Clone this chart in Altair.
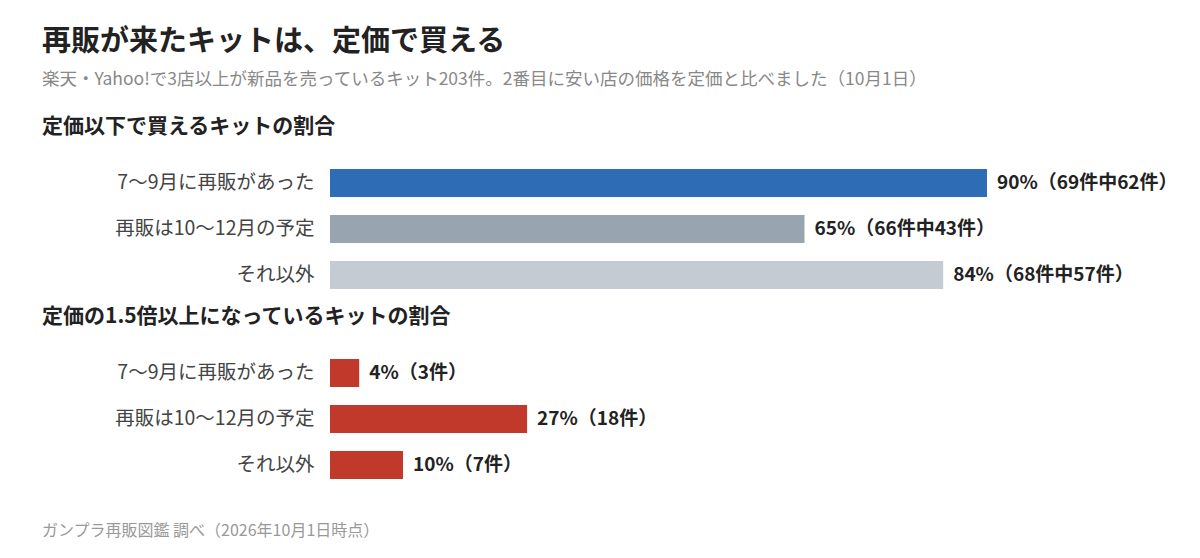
import altair as alt
import pandas as pd

FONT = "Noto Sans CJK JP"

categories = ["7〜9月に再販があった", "再販は10〜12月の予定", "それ以外"]

under_list_pct = [90, 65, 84]
under_list_labels = ["90%（69件中62件）", "65%（66件中43件）", "84%（68件中57件）"]
under_list_colors = ["#2e6cb5", "#98a5b0", "#c5cbd2"]

over_15_pct = [4, 27, 10]
over_15_labels = ["4%（3件）", "27%（18件）", "10%（7件）"]
over_15_colors = ["#c0392b", "#c0392b", "#c0392b"]

title = "再販が来たキットは、定価で買える"
subtitle = "楽天・Yahoo!で3店以上が新品を売っているキット203件。2番目に安い店の価格を定価と比べました（10月1日）"
header_1 = "定価以下で買えるキットの割合"
header_2 = "定価の1.5倍以上になっているキットの割合"
footer = "ガンプラ再販図鑑 調べ（2026年10月1日時点）"


def panel(values, labels, colors, header):
    df = pd.DataFrame({"group": categories, "pct": values, "label": labels})
    base = alt.Chart(df).encode(
        y=alt.Y(
            "group:N",
            sort=categories,
            title=None,
            scale=alt.Scale(paddingInner=0.39, paddingOuter=0.195),
            axis=alt.Axis(
                domain=False, ticks=False, labelPadding=16, labelFontSize=19.5,
                labelFont=FONT, labelColor="#444", minExtent=322, maxExtent=322,
                labelLimit=400,
            ),
        )
    )
    bars = base.mark_bar().encode(
        x=alt.X("pct:Q", scale=alt.Scale(domain=[0, 100]), axis=None),
        color=alt.Color("group:N", scale=alt.Scale(domain=categories, range=colors), legend=None),
    )
    text = base.mark_text(
        align="left", dx=10, fontSize=19, fontWeight="bold", font=FONT, color="#222"
    ).encode(x="pct:Q", text="label:N")
    return alt.layer(bars, text).properties(
        width=730,
        height=138,
        title=alt.TitleParams(
            header, anchor="start", frame="group", dx=-288, fontSize=21,
            font=FONT, fontWeight="bold", color="#222", offset=23,
        ),
    )


top = panel(under_list_pct, under_list_labels, under_list_colors, header_1)
bottom = panel(over_15_pct, over_15_labels, over_15_colors, header_2)

foot = (
    alt.Chart(pd.DataFrame({"t": [footer]}))
    .mark_text(align="left", baseline="top", fontSize=16, font=FONT, color="#999")
    .encode(x=alt.value(-288), y=alt.value(27), text="t:N")
    .properties(width=730, height=50)
)

chart = (
    alt.vconcat(top, bottom, foot, spacing=8)
    .resolve_scale(color="independent")
    .properties(
        title=alt.TitleParams(
            title, subtitle=subtitle, anchor="start", frame="group", dx=-288,
            fontSize=29, font=FONT, fontWeight="bold", color="#222",
            subtitleFont=FONT, subtitleFontSize=17.5, subtitleColor="#888",
            subtitlePadding=14, offset=28,
        ),
        padding={"left": 0, "top": 19, "right": 0, "bottom": 0},
    )
    .configure_view(stroke=None)
)

chart.save("out.html", embed_options={"renderer": "svg", "actions": False})
